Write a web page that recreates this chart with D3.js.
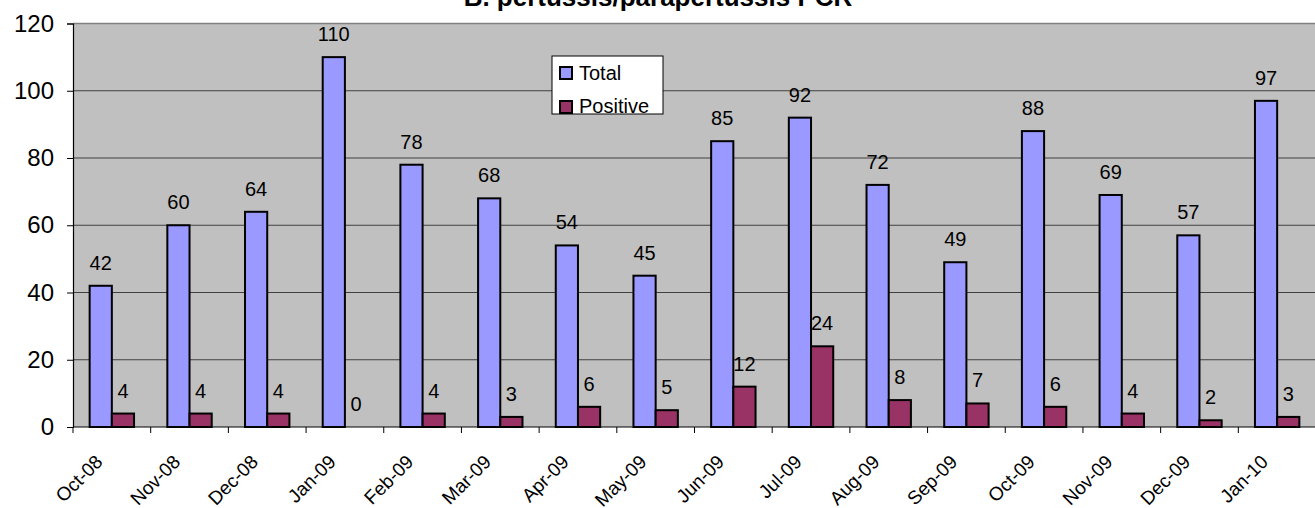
<!DOCTYPE html>
<html>
<head>
<meta charset="utf-8">
<script src="https://cdn.jsdelivr.net/npm/d3@7"></script>
<style>
  body { margin: 0; background: #fff; }
  svg { display: block; font-family: "Liberation Sans", Arial, sans-serif; }
</style>
</head>
<body>
<svg width="1315" height="508"></svg>
<script>
// values
let months = ["Oct-08", "Nov-08", "Dec-08", "Jan-09", "Feb-09", "Mar-09", "Apr-09", "May-09",
              "Jun-09", "Jul-09", "Aug-09", "Sep-09", "Oct-09", "Nov-09", "Dec-09", "Jan-10"]
let total = [42, 60, 64, 110, 78, 68, 54, 45, 85, 92, 72, 49, 88, 69, 57, 97]
let positive = [4, 4, 4, 0, 4, 3, 6, 5, 12, 24, 8, 7, 6, 4, 2, 3]
let yTicks = [0, 20, 40, 60, 80, 100, 120]

let keys = ["Total", "Positive"]
let colors = { Total: "#9999ff", Positive: "#993366" }

let data = months.map(function (m, i) {
    return { month: m, Total: total[i], Positive: positive[i] }
})

var svg = d3.select("svg"),
    plotLeft = 73, plotRight = 1316, plotTop = 23.5, plotBottom = 427

var x = d3.scaleBand().domain(months).range([plotLeft, plotRight]).padding(0)
var x1 = d3.scaleBand().domain(keys).range([0, x.bandwidth()]).paddingInner(0).paddingOuter(0.75)
var y = d3.scaleLinear().domain([0, 120]).range([plotBottom, plotTop])

// plot area
svg.append("rect")
    .attr("x", plotLeft).attr("y", plotTop)
    .attr("width", plotRight - plotLeft).attr("height", plotBottom - plotTop)
    .attr("fill", "#c0c0c0")

// gridlines
svg.append("g")
    .selectAll("line")
    .data(yTicks.filter(d => d > 0))
    .enter().append("line")
    .attr("x1", plotLeft).attr("x2", plotRight)
    .attr("y1", d => y(d)).attr("y2", d => y(d))
    .attr("stroke", d => d === 120 ? "#808080" : "#404040")
    .attr("stroke-width", d => d === 120 ? 1.5 : 1)

// y axis
var yAxis = svg.append("g")
    .attr("transform", "translate(" + plotLeft + ",0)")
    .call(d3.axisLeft(y).tickValues(yTicks).tickSize(6).tickPadding(13))
yAxis.select(".domain").attr("stroke", "#000").attr("stroke-width", 1.2)
yAxis.selectAll(".tick line").attr("stroke", "#000")
yAxis.selectAll("text")
    .attr("font-size", "24px")
    .attr("font-family", "Liberation Sans, Arial, sans-serif")
    .attr("fill", "#000")

// x axis line and ticks at category edges
svg.append("line")
    .attr("x1", plotLeft).attr("x2", plotRight)
    .attr("y1", plotBottom).attr("y2", plotBottom)
    .attr("stroke", "#000").attr("stroke-width", 1.2)

svg.append("g")
    .selectAll("line")
    .data(months)
    .enter().append("line")
    .attr("x1", d => x(d)).attr("x2", d => x(d))
    .attr("y1", plotBottom).attr("y2", plotBottom + 6)
    .attr("stroke", "#000")

svg.append("g")
    .selectAll("text")
    .data(months)
    .enter().append("text")
    .attr("transform", d => "translate(" + (x(d) + x.bandwidth() / 2 - 8) + "," + (plotBottom + 36) + ") rotate(-45)")
    .attr("text-anchor", "end")
    .attr("font-size", "19px")
    .text(d => d)

// bars
var groups = svg.append("g")
    .selectAll("g")
    .data(data)
    .enter().append("g")
    .attr("transform", d => "translate(" + x(d.month) + ",0)")

groups.selectAll("rect")
    .data(d => keys.map(k => ({ key: k, value: d[k] })))
    .enter().append("rect")
    .attr("x", d => x1(d.key))
    .attr("y", d => y(d.value))
    .attr("width", x1.bandwidth())
    .attr("height", d => plotBottom - y(d.value))
    .attr("fill", d => colors[d.key])
    .attr("stroke", "#000")
    .attr("stroke-width", 2)

groups.selectAll("text")
    .data(d => keys.map(k => ({ key: k, value: d[k] })))
    .enter().append("text")
    .attr("x", d => x1(d.key) + x1.bandwidth() / 2)
    .attr("y", d => y(d.value) - 16)
    .attr("text-anchor", "middle")
    .attr("font-size", "20px")
    .text(d => d.value)

// title (top is cut off by the frame)
svg.append("text")
    .attr("x", 658)
    .attr("y", 6)
    .attr("text-anchor", "middle")
    .attr("font-size", "26px")
    .attr("font-weight", "bold")
    .text("B. pertussis/parapertussis PCR")

// legend
var legend = svg.append("g")
legend.append("rect")
    .attr("x", 552).attr("y", 56)
    .attr("width", 111).attr("height", 58)
    .attr("fill", "#fff")
    .attr("stroke", "#000").attr("stroke-width", 1)

keys.forEach(function (k, i) {
    legend.append("rect")
        .attr("x", 560).attr("y", 67 + i * 34)
        .attr("width", 12).attr("height", 12)
        .attr("fill", colors[k])
        .attr("stroke", "#000").attr("stroke-width", 2)
    legend.append("text")
        .attr("x", 579).attr("y", 80 + i * 33)
        .attr("font-size", "20px")
        .text(k)
})
</script>
</body>
</html>
